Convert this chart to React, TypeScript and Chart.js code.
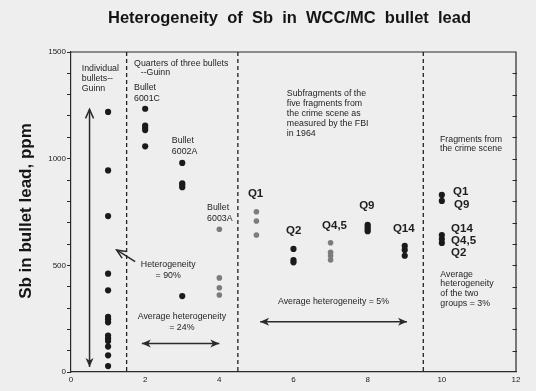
import React, { useEffect, useRef } from 'react';
import { Chart, registerables } from 'chart.js';
Chart.register(...registerables);

// ---- data (Sb, ppm) ----
const individualBullets = [1219, 945, 731, 461, 383, 259, 247, 233, 171, 158, 145, 119, 78, 28];
const bullet6001C = [1234, 1155, 1145, 1134, 1058];
const bullet6002A = [980, 884, 877, 866, 356];
const bullet6003A = [669, 441, 395, 361];
const subQ1 = [751, 708, 642];
const subQ2 = [577, 525, 514];
const subQ45 = [606, 561, 545, 525];
const subQ9 = [690, 680, 670, 660];
const subQ14 = [591, 572, 545];
const fragmentsTop = [830, 802];
const fragmentsBottom = [642, 623, 605];

const xTickValues = [0, 2, 4, 6, 8, 10, 12];
const yLabelValues = [0, 500, 1000, 1500];
const dividerX = [1.5, 4.5, 9.5];

const BLACK = '#1a1a1a';
const GRAY = '#7c7c7c';
const BG = '#eeeeee';
const FONT = '"Liberation Sans", Arial, sans-serif';

type Group = { x: number; values: number[]; color: string };
const groups: Group[] = [
  { x: 1, values: individualBullets, color: BLACK },
  { x: 2, values: bullet6001C, color: BLACK },
  { x: 3, values: bullet6002A, color: BLACK },
  { x: 4, values: bullet6003A, color: GRAY },
  { x: 5, values: subQ1, color: GRAY },
  { x: 6, values: subQ2, color: BLACK },
  { x: 7, values: subQ45, color: GRAY },
  { x: 8, values: subQ9, color: BLACK },
  { x: 9, values: subQ14, color: BLACK },
  { x: 10, values: fragmentsTop, color: BLACK },
  { x: 10, values: fragmentsBottom, color: BLACK },
];

type Note = { x: number; y: number; lines: string[]; align: CanvasTextAlign; bold?: boolean; size: number; lh: number };
const notes: Note[] = [
  { x: 0.29, y: 1420, lines: ['Individual', 'bullets--', 'Guinn'], align: 'left', size: 8.8, lh: 9.7 },
  { x: 1.70, y: 1448, lines: ['Quarters of three bullets'], align: 'left', size: 8.8, lh: 10 },
  { x: 1.88, y: 1402, lines: ['--Guinn'], align: 'left', size: 8.8, lh: 10 },
  { x: 1.70, y: 1331, lines: ['Bullet', '6001C'], align: 'left', size: 8.8, lh: 10.8 },
  { x: 2.72, y: 1083, lines: ['Bullet', '6002A'], align: 'left', size: 8.8, lh: 10.8 },
  { x: 3.67, y: 769, lines: ['Bullet', '6003A'], align: 'left', size: 8.8, lh: 10.8 },
  { x: 2.62, y: 502, lines: ['Heterogeneity', '= 90%'], align: 'center', size: 8.8, lh: 10.8 },
  { x: 2.99, y: 258, lines: ['Average heterogeneity', '= 24%'], align: 'center', size: 8.8, lh: 10.3 },
  { x: 5.82, y: 1303, lines: ['Subfragments of the', 'five fragments from', 'the crime scene as', 'measured by the FBI', 'in 1964'], align: 'left', size: 8.8, lh: 9.8 },
  { x: 5.58, y: 328, lines: ['Average heterogeneity = 5%'], align: 'left', size: 8.8, lh: 10 },
  { x: 9.95, y: 1088, lines: ['Fragments from', 'the crime scene'], align: 'left', size: 8.8, lh: 9 },
  { x: 9.96, y: 459, lines: ['Average', 'heterogeneity', 'of the two', 'groups = 3%'], align: 'left', size: 8.8, lh: 9.7 },
  { x: 4.77, y: 834, lines: ['Q1'], align: 'left', bold: true, size: 11.5, lh: 12 },
  { x: 5.80, y: 661, lines: ['Q2'], align: 'left', bold: true, size: 11.5, lh: 12 },
  { x: 6.77, y: 684, lines: ['Q4,5'], align: 'left', bold: true, size: 11.5, lh: 12 },
  { x: 7.77, y: 778, lines: ['Q9'], align: 'left', bold: true, size: 11.5, lh: 12 },
  { x: 8.68, y: 670, lines: ['Q14'], align: 'left', bold: true, size: 11.5, lh: 12 },
  { x: 10.30, y: 844, lines: ['Q1'], align: 'left', bold: true, size: 11.5, lh: 12 },
  { x: 10.33, y: 783, lines: ['Q9'], align: 'left', bold: true, size: 11.5, lh: 12 },
  { x: 10.25, y: 670, lines: ['Q14', 'Q4,5', 'Q2'], align: 'left', bold: true, size: 11.5, lh: 12 },
];

type Arrow = { x1: number; y1: number; x2: number; y2: number; start?: 'open' | 'filled'; end?: 'open' | 'filled' };
const arrows: Arrow[] = [
  { x1: 0.5, y1: 1231, x2: 0.5, y2: 24, start: 'open', end: 'filled' },
  { x1: 1.91, y1: 134, x2: 4.0, y2: 134, start: 'filled', end: 'filled' },
  { x1: 5.1, y1: 236, x2: 9.06, y2: 236, start: 'filled', end: 'filled' },
  { x1: 1.73, y1: 517, x2: 1.23, y2: 572, end: 'open' },
];

function drawHead(ctx: CanvasRenderingContext2D, tx: number, ty: number, ang: number, kind: 'open' | 'filled') {
  const len = 9;
  const half = 4;
  const bx = tx - Math.cos(ang) * len;
  const by = ty - Math.sin(ang) * len;
  const nx = -Math.sin(ang) * half;
  const ny = Math.cos(ang) * half;
  ctx.beginPath();
  if (kind === 'filled') {
    ctx.moveTo(tx, ty);
    ctx.lineTo(bx + nx, by + ny);
    ctx.lineTo(bx + Math.cos(ang) * 2.5, by + Math.sin(ang) * 2.5);
    ctx.lineTo(bx - nx, by - ny);
    ctx.closePath();
    ctx.fill();
  } else {
    ctx.moveTo(bx + nx, by + ny);
    ctx.lineTo(tx, ty);
    ctx.lineTo(bx - nx, by - ny);
    ctx.stroke();
  }
}

const decorPlugin = {
  id: 'decor',
  beforeDraw(chart: any) {
    const ctx = chart.ctx;
    ctx.save();
    ctx.fillStyle = BG;
    ctx.fillRect(0, 0, chart.width, chart.height);
    ctx.restore();
  },
  afterDraw(chart: any) {
    const ctx: CanvasRenderingContext2D = chart.ctx;
    const xs = chart.scales.x;
    const ys = chart.scales.y;
    const area = chart.chartArea;
    ctx.save();
    // frame: top and right
    ctx.strokeStyle = '#2a2a2a';
    ctx.lineWidth = 1.2;
    ctx.beginPath();
    ctx.moveTo(area.left, area.top);
    ctx.lineTo(area.right, area.top);
    ctx.lineTo(area.right, area.bottom);
    ctx.stroke();
    // right ticks
    ctx.lineWidth = 1;
    for (let v = 100; v < 1500; v += 100) {
      const py = Math.round(ys.getPixelForValue(v)) + 0.5;
      ctx.beginPath();
      ctx.moveTo(area.right - 3.5, py);
      ctx.lineTo(area.right + 1, py);
      ctx.stroke();
    }
    // dashed dividers
    ctx.setLineDash([4, 3]);
    ctx.lineWidth = 1.3;
    ctx.strokeStyle = '#222';
    dividerX.forEach((d) => {
      const px = xs.getPixelForValue(d);
      ctx.beginPath();
      ctx.moveTo(px, area.top);
      ctx.lineTo(px, area.bottom);
      ctx.stroke();
    });
    ctx.setLineDash([]);
    // arrows
    ctx.strokeStyle = '#2a2a2a';
    ctx.fillStyle = '#2a2a2a';
    ctx.lineWidth = 1.5;
    arrows.forEach((a) => {
      const x1 = xs.getPixelForValue(a.x1), y1 = ys.getPixelForValue(a.y1);
      const x2 = xs.getPixelForValue(a.x2), y2 = ys.getPixelForValue(a.y2);
      ctx.beginPath();
      ctx.moveTo(x1, y1);
      ctx.lineTo(x2, y2);
      ctx.stroke();
      const ang = Math.atan2(y2 - y1, x2 - x1);
      if (a.end) drawHead(ctx, x2, y2, ang, a.end);
      if (a.start) drawHead(ctx, x1, y1, ang + Math.PI, a.start);
    });
    // notes
    ctx.fillStyle = '#1e1e1e';
    ctx.textBaseline = 'middle';
    notes.forEach((n) => {
      ctx.font = `${n.bold ? 'bold ' : ''}${n.size}px ${FONT}`;
      ctx.textAlign = n.align;
      const px = xs.getPixelForValue(n.x);
      const py = ys.getPixelForValue(n.y);
      n.lines.forEach((l, i) => ctx.fillText(l, px, py + i * n.lh));
    });
    // title
    ctx.font = `bold 16.5px ${FONT}`;
    ctx.textAlign = 'center';
    ctx.fillStyle = '#151515';
    ctx.fillText('Heterogeneity  of  Sb  in  WCC/MC  bullet  lead', (area.left + area.right) / 2 - 4, 18);
    // y title
    ctx.save();
    ctx.translate(26.5, (area.top + area.bottom) / 2 - 1);
    ctx.rotate(-Math.PI / 2);
    ctx.font = `bold 17px ${FONT}`;
    ctx.fillText('Sb in bullet lead, ppm', 0, 0);
    ctx.restore();
    ctx.restore();
  },
};

export default function App() {
  const ref = useRef<HTMLCanvasElement>(null);
  useEffect(() => {
    document.body.style.margin = '0';
    document.body.style.background = BG;
    const datasets = groups.map((g) => ({
      data: g.values.map((v) => ({ x: g.x, y: v })),
      backgroundColor: g.color,
      borderWidth: 0,
      pointRadius: g.color === GRAY ? 2.8 : 3.1,
      pointHoverRadius: 3,
    }));
    const chart = new Chart(ref.current!, {
      type: 'scatter',
      data: { datasets },
      options: {
        animation: false,
        responsive: false,
        events: [],
        layout: { padding: { top: 52, right: 20, left: 0, bottom: 0 } },
        plugins: { legend: { display: false }, tooltip: { enabled: false }, title: { display: false } },
        scales: {
          x: {
            type: 'linear',
            min: 0,
            max: 12,
            afterFit: (s: any) => { s.height = 19; },
            afterBuildTicks: (s: any) => { s.ticks = xTickValues.map((v) => ({ value: v })); },
            ticks: { font: { family: FONT, size: 8 }, color: '#222', padding: 3, maxRotation: 0, autoSkip: false },
            grid: { display: true, drawOnChartArea: false, drawTicks: false },
            border: { color: '#2a2a2a', width: 1.2 },
          },
          y: {
            type: 'linear',
            min: 0,
            max: 1500,
            afterFit: (s: any) => { s.width = 71; },
            ticks: {
              stepSize: 100,
              autoSkip: false,
              font: { family: FONT, size: 8 },
              color: '#222',
              padding: 1,
              callback: (v: any) => (yLabelValues.includes(Number(v)) ? String(v) : ''),
            },
            grid: { drawOnChartArea: false, tickLength: 4, color: '#2a2a2a' },
            border: { color: '#2a2a2a', width: 1.2 },
          },
        },
      },
      plugins: [decorPlugin],
    });
    return () => chart.destroy();
  }, []);
  return (
    <div style={{ width: 536, height: 391, background: BG }}>
      <canvas ref={ref} width={536} height={391} style={{ width: 536, height: 391, display: 'block' }} />
    </div>
  );
}
